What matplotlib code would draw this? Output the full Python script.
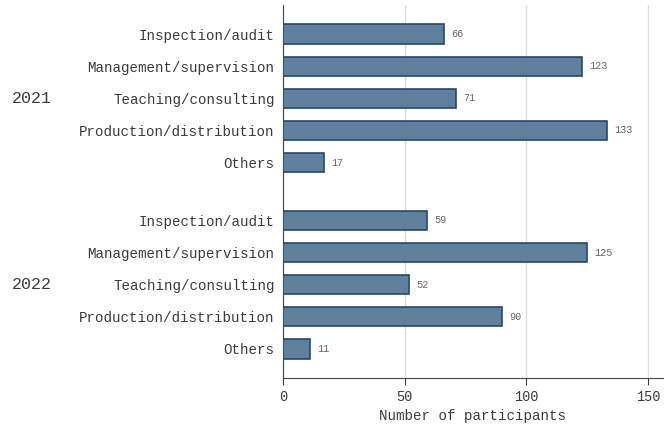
import matplotlib.pyplot as plt
import numpy as np

categories = ["Inspection/audit", "Management/supervision", "Teaching/consulting",
              "Production/distribution", "Others"]
years = ["2021", "2022"]
counts_2021 = [66, 123, 71, 133, 17]
counts_2022 = [59, 125, 52, 90, 11]

plt.rcParams['font.family'] = ['Liberation Mono', 'DejaVu Sans Mono']

fig = plt.figure(figsize=(6.64, 4.25), dpi=100)
ax = fig.add_axes([0.426, 0.111, 0.572, 0.877])

gap = 5.8
pos_2021 = np.arange(len(categories))
pos_2022 = pos_2021 + gap
fill = "#5f7f9b"
edge = "#26486b"

for pos, vals in [(pos_2021, counts_2021), (pos_2022, counts_2022)]:
    ax.barh(pos, vals, height=0.6, color=fill, edgecolor=edge, linewidth=1.2, zorder=3)
    for p, v in zip(pos, vals):
        ax.text(v + 3, p, str(v), va='center', ha='left', fontsize=7.3, color='#666666')

ax.set_yticks(np.concatenate([pos_2021, pos_2022]))
ax.set_yticklabels(categories + categories, fontsize=10.2, color='#3a3a3a')
ax.set_ylim(pos_2022[-1] + 0.9, -0.9)
ax.set_xlim(0, 156)
ax.set_xticks([0, 50, 100, 150])
ax.tick_params(axis='x', labelsize=9.8, colors='#3a3a3a', length=5)
ax.tick_params(axis='y', length=0, pad=6)
ax.set_xlabel("Number of participants", fontsize=10.2, color='#3a3a3a', labelpad=4)
ax.grid(axis='x', color='#dddddd', linewidth=1, zorder=0)
for s in ['top', 'right']:
    ax.spines[s].set_visible(False)
ax.spines['left'].set_color('#444444')
ax.spines['bottom'].set_color('#444444')

for y, pos in zip(years, [pos_2021, pos_2022]):
    ax.annotate(y, xy=(12 / 664, pos[2]), xycoords=('figure fraction', 'data'),
                ha='left', va='center', fontsize=12, color='#3a3a3a')

fig.savefig("out.png", dpi=100)
